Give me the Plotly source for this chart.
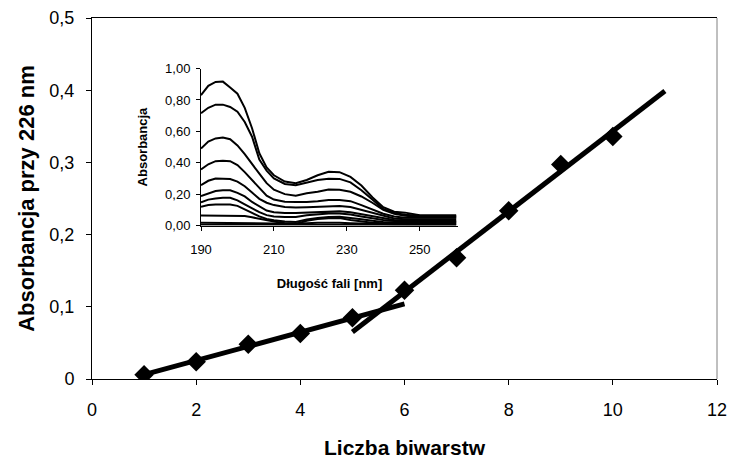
import plotly.graph_objects as go

# ---------------- main chart data ----------------
bilayers = [1, 2, 3, 4, 5, 6, 7, 8, 9, 10]
absorb_226 = [0.006, 0.024, 0.048, 0.063, 0.085, 0.123, 0.168, 0.233, 0.297, 0.336]

# two linear trend lines (end points)
trend1_x = [1, 6]
trend1_y = [0.006, 0.104]
trend2_x = [5, 11]
trend2_y = [0.065, 0.399]

main_xticks = [0, 2, 4, 6, 8, 10, 12]
main_yticks = [0, 0.1, 0.2, 0.3, 0.4, 0.5]

# ---------------- inset spectra ----------------
wavelength = [190, 192, 194, 196, 198, 200, 202, 204, 206, 208, 210, 213, 216,
              219, 222, 225, 228, 231, 234, 237, 240, 243, 246, 250, 255, 260]

spec_1 = [0.83, 0.89, 0.915, 0.917, 0.88, 0.84, 0.75, 0.62, 0.46, 0.37, 0.32, 0.28, 0.27,
          0.29, 0.32, 0.343, 0.34, 0.31, 0.255, 0.18, 0.117, 0.088, 0.082, 0.066, 0.066, 0.066]
spec_2 = [0.715, 0.75, 0.77, 0.77, 0.755, 0.725, 0.66, 0.566, 0.42, 0.35, 0.30, 0.265, 0.257,
          0.275, 0.29, 0.298, 0.297, 0.275, 0.225, 0.165, 0.105, 0.079, 0.068, 0.062, 0.06, 0.06]
spec_3 = [0.49, 0.535, 0.555, 0.56, 0.55, 0.51, 0.455, 0.39, 0.33, 0.27, 0.228, 0.20, 0.19,
          0.205, 0.215, 0.23, 0.228, 0.215, 0.185, 0.145, 0.10, 0.075, 0.062, 0.055, 0.055, 0.055]
spec_4 = [0.357, 0.39, 0.41, 0.413, 0.41, 0.385, 0.34, 0.29, 0.235, 0.19, 0.165, 0.152, 0.15,
          0.15, 0.155, 0.162, 0.162, 0.155, 0.13, 0.10, 0.075, 0.058, 0.05, 0.049, 0.049, 0.049]
spec_5 = [0.257, 0.285, 0.30, 0.30, 0.296, 0.28, 0.25, 0.21, 0.17, 0.145, 0.13, 0.118, 0.115,
          0.117, 0.12, 0.125, 0.124, 0.118, 0.10, 0.08, 0.06, 0.045, 0.04, 0.04, 0.04, 0.04]
spec_6 = [0.187, 0.204, 0.22, 0.225, 0.225, 0.208, 0.185, 0.15, 0.12, 0.095, 0.085, 0.08, 0.08,
          0.082, 0.087, 0.09, 0.09, 0.085, 0.072, 0.058, 0.045, 0.035, 0.032, 0.03, 0.03, 0.03]
spec_7 = [0.147, 0.165, 0.172, 0.177, 0.177, 0.16, 0.135, 0.11, 0.085, 0.066, 0.058, 0.055, 0.055,
          0.065, 0.072, 0.077, 0.077, 0.07, 0.058, 0.045, 0.035, 0.028, 0.025, 0.025, 0.025, 0.025]
spec_8 = [0.12, 0.13, 0.134, 0.134, 0.134, 0.125, 0.105, 0.08, 0.058, 0.042, 0.034, 0.025, 0.023,
          0.038, 0.048, 0.055, 0.056, 0.05, 0.04, 0.03, 0.022, 0.02, 0.02, 0.02, 0.02, 0.02]
spec_9 = [0.064, 0.064, 0.064, 0.064, 0.064, 0.064, 0.06, 0.052, 0.042, 0.034, 0.025, 0.015, 0.01,
          0.03, 0.042, 0.046, 0.047, 0.035, 0.025, 0.018, 0.015, 0.014, 0.014, 0.014, 0.014, 0.014]
spec_10 = [0.017, 0.017, 0.017, 0.017, 0.017, 0.017, 0.017, 0.017, 0.016, 0.015, 0.013, 0.012, 0.012,
           0.015, 0.017, 0.018, 0.018, 0.015, 0.012, 0.010, 0.009, 0.008, 0.008, 0.008, 0.008, 0.008]
spec_11 = [0.005, 0.005, 0.005, 0.005, 0.005, 0.005, 0.005, 0.005, 0.005, 0.005, 0.004, 0.004, 0.004,
           0.004, 0.004, 0.005, 0.005, 0.004, 0.004, 0.003, 0.003, 0.003, 0.003, 0.003, 0.003, 0.003]
spectra = [spec_1, spec_2, spec_3, spec_4, spec_5, spec_6, spec_7, spec_8, spec_9, spec_10, spec_11]

inset_xticks = [190, 210, 230, 250]
inset_yticks = [0, 0.2, 0.4, 0.6, 0.8, 1.0]

FONT = "Liberation Sans, Arial, sans-serif"

fig = go.Figure()

# inset spectra
for s in spectra:
    fig.add_trace(go.Scatter(x=wavelength, y=s, mode="lines", xaxis="x2", yaxis="y2",
                             line=dict(color="black", width=2), showlegend=False,
                             hoverinfo="skip"))

# trend lines
fig.add_trace(go.Scatter(x=trend1_x, y=trend1_y, mode="lines",
                         line=dict(color="black", width=5), showlegend=False))
fig.add_trace(go.Scatter(x=trend2_x, y=trend2_y, mode="lines",
                         line=dict(color="black", width=5), showlegend=False))
# data points
fig.add_trace(go.Scatter(x=bilayers, y=absorb_226, mode="markers",
                         marker=dict(symbol="diamond", size=15, color="black"),
                         showlegend=False))

fig.update_layout(
    width=732, height=466,
    margin=dict(l=92, r=15, t=18, b=87),
    paper_bgcolor="white", plot_bgcolor="white",
    separators=", ",
    font=dict(family=FONT, color="black"),
    xaxis=dict(range=[0, 12], tickvals=main_xticks, showgrid=False, zeroline=False,
               showline=True, linecolor="black", linewidth=1, mirror=True,
               ticks="outside", ticklen=5, tickcolor="black", automargin=False,
               tickfont=dict(size=18), ticklabelstandoff=9,
               title=dict(text="<b>Liczba biwarstw</b>", font=dict(size=21), standoff=21)),
    yaxis=dict(range=[0, 0.5], tickvals=main_yticks, showgrid=False, zeroline=False,
               showline=True, linecolor="black", linewidth=1, automargin=False,
               ticks="outside", ticklen=5, tickcolor="black",
               tickfont=dict(size=18), ticklabelstandoff=8,
               title=dict(text="<b>Absorbancja przy 226 nm</b>", font=dict(size=22), standoff=8)),
    xaxis2=dict(domain=[0.1744, 0.5856], anchor="y2", range=[190, 260.5],
                tickvals=inset_xticks, showgrid=False, zeroline=False,
                showline=True, linecolor="black", linewidth=1, automargin=False,
                ticks="outside", ticklen=4, tickcolor="black",
                tickfont=dict(size=13), ticklabelstandoff=8,
                title=dict(text="<b>Długość fali [nm]</b>", font=dict(size=13), standoff=22)),
    yaxis2=dict(domain=[0.4252, 0.8599], anchor="x2", range=[0, 1.0],
                tickvals=inset_yticks, tickformat=".2f", showgrid=False, zeroline=False,
                showline=True, linecolor="black", linewidth=1, automargin=False,
                ticks="outside", ticklen=4, tickcolor="black",
                tickfont=dict(size=13), ticklabelstandoff=3,
                title=dict(text="<b>Absorbancja</b>", font=dict(size=13), standoff=14)),
    shapes=[dict(type="line", xref="paper", yref="paper", x0=1, x1=1, y0=0, y1=1,
                 line=dict(color="#808080", width=1))],
)

fig.write_html("out.html")
